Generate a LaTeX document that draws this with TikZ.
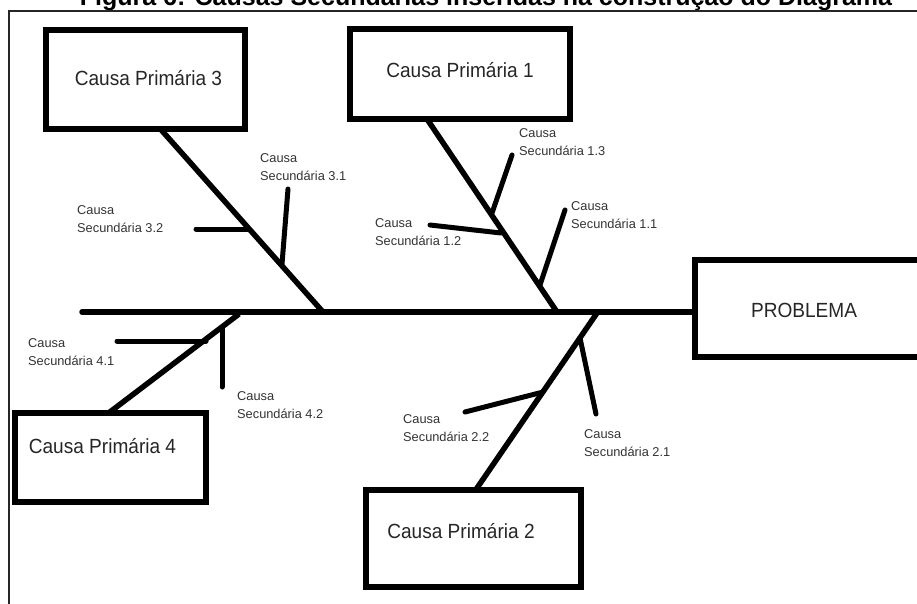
\documentclass[tikz,border=0pt]{standalone}
\usepackage{fontspec}
\setmainfont{Liberation Sans}
\newfontfamily\bigfont[FakeStretch=0.93]{Liberation Sans}
\usetikzlibrary{calc}
\begin{document}
\begin{tikzpicture}[x=1pt,y=-1pt,
  boxnode/.style={draw=black,line width=6pt,rectangle,inner sep=0pt,outer sep=0pt},
  bigtxt/.style={anchor=base,inner sep=0pt,text=black!85,font=\bigfont\fontsize{20.5}{24}\selectfont},
  smalltxt/.style={anchor=north west,inner sep=0pt,align=left,text=black!80,font=\fontsize{12.8}{18.5}\selectfont},
  bone/.style={line width=5.5pt},
  subbone/.style={line width=5pt,line cap=round},
  frameline/.style={line width=1.8pt,draw=black!85}]
\useasboundingbox (0,0) rectangle (917,603);
\clip (0,0) rectangle (917,603);
% title (cut off at top, as in the reference)
\node[anchor=base,inner sep=0pt,font=\bfseries\fontsize{25}{25}\selectfont] (title) at (486,5.5) {Figura 6: Causas Secundárias inseridas na construção do Diagrama};
% frame
\draw[frameline] (9,640) -- (9,11) -- (940,11);
% boxes
\node[boxnode,minimum width=199pt,minimum height=99pt] (p3) at (145.5,79.5) {};
\node[boxnode,minimum width=220pt,minimum height=90pt] (p1) at (460,74) {};
\node[boxnode,minimum width=225pt,minimum height=97pt] (prob) at (807.5,308.5) {};
\node[boxnode,minimum width=191pt,minimum height=89pt] (p4) at (110.5,457.5) {};
\node[boxnode,minimum width=215pt,minimum height=97pt] (p2) at (473.5,538.5) {};
% box texts
\node[bigtxt] (t3) at (148.5,85) {Causa Primária 3};
\node[bigtxt] (t1) at (460,77) {Causa Primária 1};
\node[bigtxt] (tp) at (804,317) {PROBLEMA};
\node[bigtxt] (t4) at (102.5,453) {Causa Primária 4};
\node[bigtxt] (t2) at (461,538) {Causa Primária 2};
% spine
\coordinate (sp0) at (82,312);
\draw[line width=5.5pt,line cap=round] (sp0) -- (sp0 -| prob.west);
% junctions on spine
\coordinate (j3) at (323,312);
\coordinate (j1) at (557,312);
\coordinate (j4) at (239,314);
\coordinate (j2) at (597,313);
% main bones
\coordinate (b3) at ($(p3.south west)!0.575!(p3.south east)$);
\coordinate (b1) at ($(p1.south west)!0.35!(p1.south east)$);
\coordinate (b4) at ($(p4.north west)!0.49!(p4.north east)$);
\coordinate (b2) at ($(p2.north west)!0.51!(p2.north east)$);
\draw[bone] (b3) -- (j3);
\draw[bone] (b1) -- (j1);
\draw[bone] (b4) -- (j4);
\draw[bone] (b2) -- (j2);
% secondary bones
\coordinate (e31) at (288,189); \coordinate (f31) at (282,264);
\coordinate (e32) at (196,229); \coordinate (f32) at (248,229);
\coordinate (e13) at (512,155); \coordinate (f13) at (492,213);
\coordinate (e12) at (430,225); \coordinate (f12) at (501,233);
\coordinate (e11) at (565,210); \coordinate (f11) at (540,285);
\coordinate (e41) at (117,341); \coordinate (f41) at (206,341);
\coordinate (e42) at (222,387); \coordinate (f42) at (222,328);
\coordinate (e22) at (465,412); \coordinate (f22) at (543,392);
\coordinate (e21) at (596,414); \coordinate (f21) at (580,338);
\foreach \s in {31,32,13,12,11,41,42,22,21} {\draw[subbone] (e\s) -- (f\s);}
% secondary labels
\node[smalltxt] (l31) at (260,153) {Causa\\Secundária 3.1};
\node[smalltxt] (l32) at (77,205) {Causa\\Secundária 3.2};
\node[smalltxt] (l13) at (519,128) {Causa\\Secundária 1.3};
\node[smalltxt] (l12) at (375,218) {Causa\\Secundária 1.2};
\node[smalltxt] (l11) at (571,201) {Causa\\Secundária 1.1};
\node[smalltxt] (l41) at (28,338) {Causa\\Secundária 4.1};
\node[smalltxt] (l42) at (237,391) {Causa\\Secundária 4.2};
\node[smalltxt] (l22) at (403,414) {Causa\\Secundária 2.2};
\node[smalltxt] (l21) at (584,429) {Causa\\Secundária 2.1};
\end{tikzpicture}
\end{document}
